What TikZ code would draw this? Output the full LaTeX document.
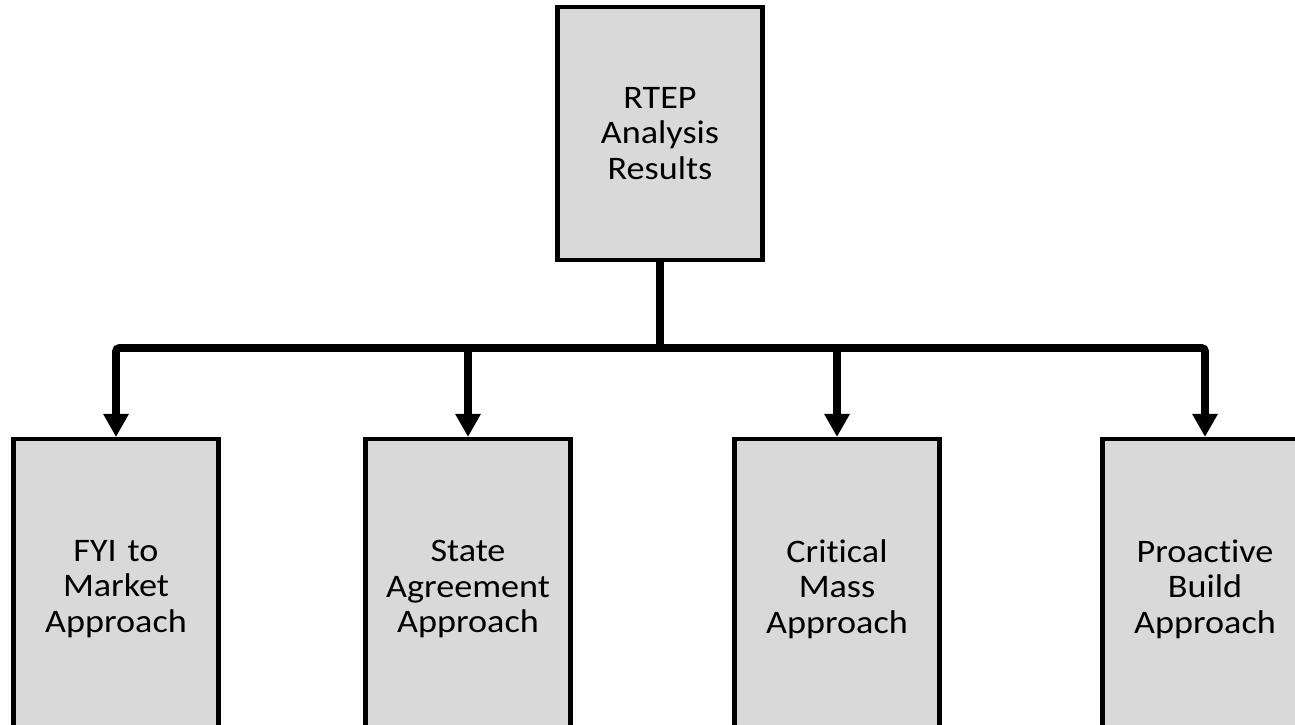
\documentclass[tikz,border=0pt]{standalone}
\usepackage{fontspec}
\setmainfont{Carlito}[FakeStretch=1.1, Ligatures=NoCommon]
\usepackage{tikz}
\usetikzlibrary{arrows.meta, positioning}
\definecolor{boxgray}{RGB}{217,217,217}
\tikzset{
  topbox/.style={rectangle, draw=black, fill=boxgray, line width=2.3pt,
    text width=3.8cm, align=center, minimum width=4.1cm, minimum height=5.06cm,
    font=\fontsize{18.7}{20.2}\selectfont},
  approachbox/.style={topbox, minimum height=6cm},
  conn/.style={line width=4.5pt, color=black, rounded corners=2pt},
  connarrow/.style={conn, -{Triangle[width=0.48cm, length=0.46cm]}}
}
\begin{document}
\begin{tikzpicture}
  \useasboundingbox (0,0) rectangle (25.9,-14.48);
  % top node
  \node[topbox] (rtep) at (13.2,-2.67) {RTEP\\Analysis\\Results};
  % four approaches
  \node[approachbox] (fyi)   at (2.32,-11.78)  {FYI to\\Market\\Approach};
  \node[approachbox] (state) at (9.36,-11.78)  {State\\Agreement\\Approach};
  \node[approachbox] (crit)  at (16.74,-11.78) {Critical\\Mass\\Approach};
  \node[approachbox] (proact) at (24.1,-11.78) {Proactive\\Build\\Approach};
  % connectors
  \coordinate (bar) at (13.2,-6.96);
  \draw[conn] (rtep.south) -- (bar);
  \foreach \n in {fyi, state, crit, proact} {
    \draw[connarrow] (bar) -| (\n.north);
  }
\end{tikzpicture}
\end{document}
